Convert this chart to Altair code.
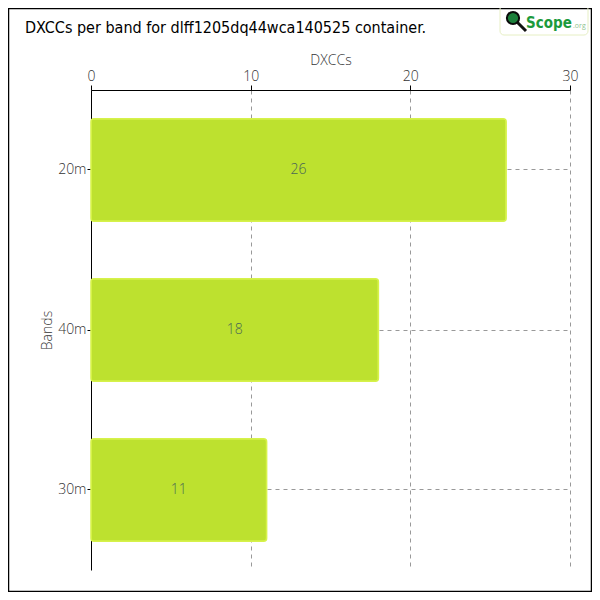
import altair as alt
import pandas as pd

bands = ["20m", "40m", "30m"]
dxccs = [26, 18, 11]
title_text = "DXCCs per band for dlff1205dq44wca140525 container."

df = pd.DataFrame({"band": bands, "dxcc": dxccs})
df["mid"] = df["dxcc"] / 2
one = pd.DataFrame({"k": [0]})  # single row for decorative marks

LABEL_FONT = "Open Sans"
TITLE_FONT = "DejaVu Sans Condensed"

x_enc = alt.X(
    "dxcc:Q",
    title="DXCCs",
    scale=alt.Scale(domain=[0, 30], nice=False),
    axis=alt.Axis(
        orient="top", values=[0, 10, 20, 30], grid=True, gridDash=[4, 4],
        gridColor="#999999", domainColor="#000000", tickColor="#000000",
        labelFont=LABEL_FONT, labelFontSize=14, labelFontWeight=300, labelColor="#333333",
        titleFont=LABEL_FONT, titleFontSize=14, titleFontWeight=300, titleColor="#333333",
        titlePadding=2, labelPadding=2, tickSize=5,
    ),
)
y_enc = alt.Y(
    "band:N",
    title="Bands",
    sort=bands,
    scale=alt.Scale(paddingInner=0.36, paddingOuter=0.18),
    axis=alt.Axis(
        grid=True, gridDash=[4, 4], gridColor="#999999", bandPosition=0.5,
        domainColor="#000000", tickColor="#000000", tickSize=4,
        labelFont=LABEL_FONT, labelFontSize=14, labelFontWeight=300, labelColor="#333333",
        titleFont=LABEL_FONT, titleFontSize=14, titleFontWeight=300, titleColor="#333333",
        labelPadding=1, titlePadding=3,
    ),
)

bars = alt.Chart(df).mark_bar(
    color="#bde12f", stroke="#d6f24a", strokeWidth=1.5, cornerRadius=3
).encode(x=x_enc, y=y_enc)

labels = alt.Chart(df).mark_text(
    font=LABEL_FONT, fontSize=14, fontWeight=300, color="#4a6656"
).encode(x="mid:Q", y=alt.Y("band:N", sort=bands), text="dxcc:Q")

# title, frame and logo (decoration)
title = alt.Chart(one).mark_text(
    text=title_text, font=TITLE_FONT, fontSize=16, fontWeight="normal", color="#000000",
    align="left", baseline="alphabetic"
).encode(x=alt.value(-66), y=alt.value(-57))
frame = alt.Chart(one).mark_rect(filled=False, stroke="#000000", strokeWidth=1.5).encode(
    x=alt.value(-82.5), x2=alt.value(500.5), y=alt.value(-81.5), y2=alt.value(501.5)
)
logo_box = alt.Chart(one).mark_rect(
    filled=False, stroke="#e6efc4", strokeWidth=1, cornerRadius=4
).encode(x=alt.value(409), x2=alt.value(497), y=alt.value(-85), y2=alt.value(-55))
glass_handle = alt.Chart(one).mark_rule(stroke="#111111", strokeWidth=3).encode(
    x=alt.value(426), x2=alt.value(435), y=alt.value(-68), y2=alt.value(-59)
)
glass = alt.Chart(one).mark_point(
    filled=True, fill="#1b7f3a", stroke="#0a0a0a", strokeWidth=2, size=150, shape="circle", opacity=1
).encode(x=alt.value(422), y=alt.value(-72))
logo_text = alt.Chart(one).mark_text(
    text="Scope", font=TITLE_FONT, fontSize=15, fontWeight="bold",
    color="#1c9a3c", align="left", baseline="alphabetic"
).encode(x=alt.value(435), y=alt.value(-62))
logo_org = alt.Chart(one).mark_text(
    text=".org", font="Open Sans", fontSize=7, color="#8fc48f", align="left", baseline="alphabetic"
).encode(x=alt.value(482), y=alt.value(-62))

chart = alt.layer(
    frame, bars, labels, title, logo_box, glass_handle, glass, logo_text, logo_org
).properties(
    width=479,
    height=480,
    autosize=alt.AutoSizeParams(type="none"),
    padding={"left": 83, "top": 82, "right": 22, "bottom": 22},
).configure_view(stroke=None).configure_axis(labelFlush=False)

chart.save("out.html", embed_options={"renderer": "svg", "actions": False})
